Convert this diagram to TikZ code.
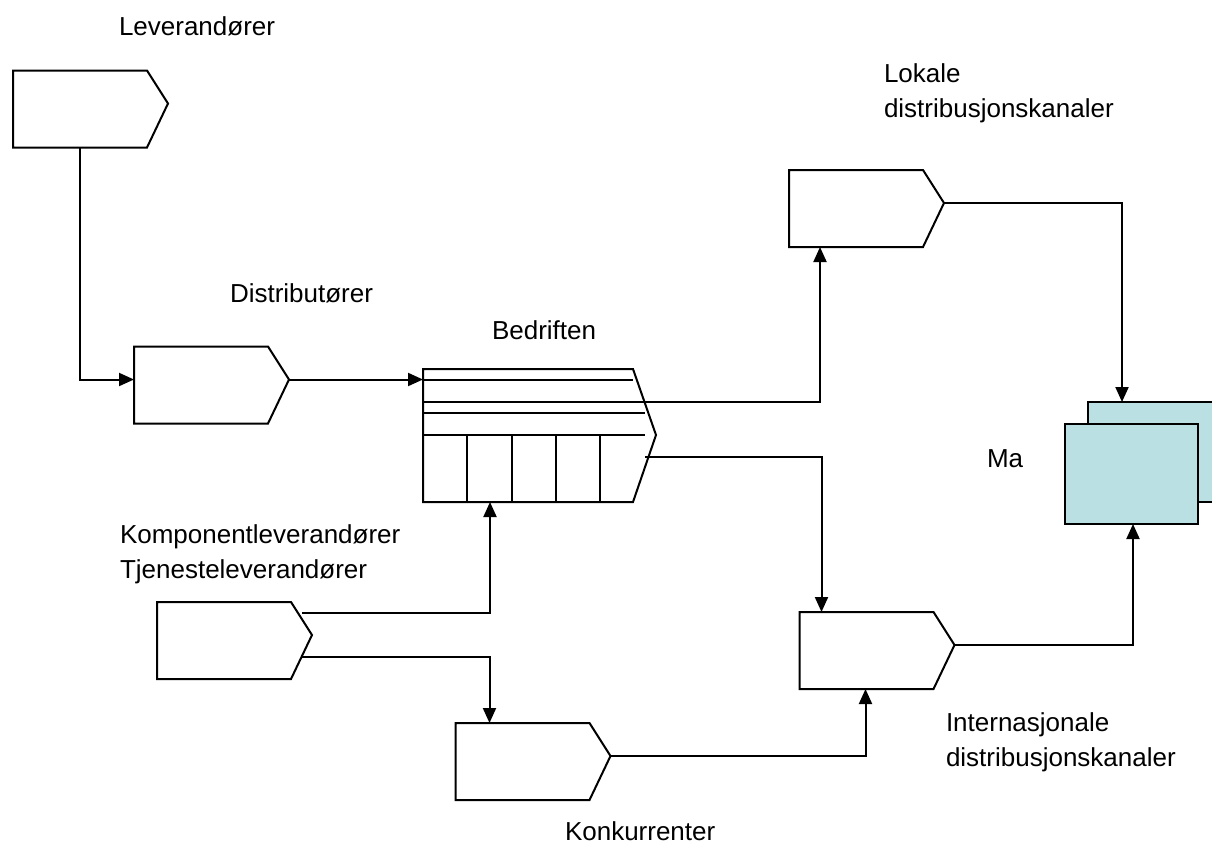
\documentclass[tikz,border=0pt]{standalone}
\usepackage{fontspec}
\setmainfont{Liberation Sans}
\usetikzlibrary{arrows.meta,calc}
\definecolor{mafill}{RGB}{187,224,227}
\begin{document}
\begin{tikzpicture}[x=1pt,y=-1pt,
  line width=2pt, line join=miter,
  body/.style={minimum width=134pt, minimum height=77pt, inner sep=0pt, outer sep=0pt, draw=none},
  link/.style={-{Triangle[length=15pt,width=13pt]}},
  lbl/.style={anchor=base west, inner sep=0pt, align=left,
    font=\fontsize{26}{35}\selectfont},
  mabox/.style={draw, fill=mafill, inner sep=0pt, outer sep=0pt}]
\useasboundingbox (0,0) rectangle (1212,844);
\clip (0,0) rectangle (1212,844);

% rectangular bodies of the arrow-shaped boxes
\node[body] (lev)  at (80,109)    {};
\node[body] (dist) at (201,385)   {};
\node[body] (komp) at (224,640.5) {};
\node[body] (konk) at (522.5,761.5) {};
\node[body] (intl) at (866.5,650.5) {};
\node[body] (lok)  at (856,208.5) {};

% pointed outlines, tip a little above the middle
\foreach \n in {lev,dist,komp,konk,intl,lok}{
  \coordinate (\n-tip) at ([shift={(21,-5.5)}]\n.east);
  \draw (\n.north west) -- (\n.north east) -- (\n-tip) -- (\n.south east)
        -- (\n.south west) -- cycle;
}

% the company: a pointed box with rows and columns
\node[minimum width=210pt, minimum height=133pt, inner sep=0pt, outer sep=0pt]
  (bed) at (528,435.5) {};
\coordinate (bed-tip) at (656,435);
\draw (bed.north west) -- (bed.north east) -- (bed-tip) -- (bed.south east)
      -- (bed.south west) -- cycle;
\draw (423,380) -- (633,380);
\draw (423,413) -- (645,413);
\draw (423,435) -- (645,435);
\foreach \x in {467,512,556,600} \draw (\x,435) -- (\x,502);
\coordinate (bed-row) at (423,402);
\coordinate (bed-out) at (645,457);

% market boxes
\node[mabox, minimum width=152pt, minimum height=100pt] (maback) at (1164,452) {};
\node[mabox, minimum width=133pt, minimum height=100pt] (ma) at (1131.5,474) {};

% connectors
\draw[link] (lev.south) |- (dist.west |- dist-tip);
\draw[link] (dist-tip) -- (bed.west |- dist-tip);
\draw[link] (bed-row) -| ($(lok.south west)+(31,0)$);
\draw[link] (bed-out) -| ($(intl.north west)+(22,0)$);
\coordinate (komp-a) at (302,613);
\coordinate (komp-b) at (302,657);
\draw[link] (komp-a) -| ($(bed.south west)+(67,0)$);
\draw[link] (komp-b) -| ($(konk.north west)+(34,0)$);
\draw[link] (konk-tip) -| ($(intl.south west)+(66,0)$);
\draw[link] (intl-tip) -| ($(ma.south west)+(68,0)$);
\draw[link] (lok-tip) -| ($(maback.north west)+(34,0)$);

% labels (base anchor sits on the last line)
\node[lbl] (t-lev)  at (118,35)  {Leverandører};
\node[lbl] (t-dist) at (229,302) {Distributører};
\node[lbl] (t-bed)  at (491,339) {Bedriften};
\node[lbl] (t-lok)  at (883,117) {Lokale\\distribusjonskanaler};
\node[lbl] (t-komp) at (119,578) {Komponentleverandører\\Tjenesteleverandører};
\node[lbl] (t-intl) at (945,766) {Internasjonale\\distribusjonskanaler};
\node[lbl] (t-konk) at (564,840) {Konkurrenter};
\node[lbl] (t-ma)   at (986,467) {Ma};
\end{tikzpicture}
\end{document}
